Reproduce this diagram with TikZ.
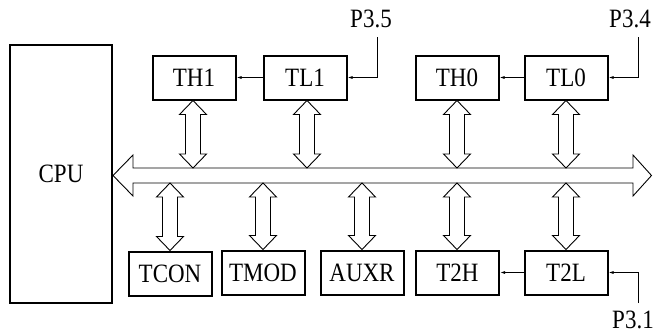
\documentclass[tikz,border=0pt]{standalone}
\usepackage{fontspec}
\setmainfont{Liberation Serif}
\usetikzlibrary{arrows.meta}
\newcommand\lbl[1]{\scalebox{1}[1.15]{#1}}
\tikzset{
  reg/.style={draw, line width=2pt, minimum width=83pt, minimum height=44pt, inner sep=0pt, font=\fontsize{23}{25}\selectfont},
  cpubox/.style={draw, line width=2pt, minimum width=102pt, minimum height=258pt, inner sep=0pt, font=\fontsize{23}{25}\selectfont},
  pin/.style={inner sep=0pt, font=\fontsize{23}{25}\selectfont},
  sig/.style={line width=0.9pt, -{Latex[length=5pt,width=3pt]}},
  hollow/.style={draw, line width=0.9pt, fill=white},
}
% vertical hollow double arrow: x, ytop, ybottom
\newcommand\vdarrow[3]{%
  \draw[hollow] (#1,#2) -- ++(13.5,14) -- ++(-6,0) -- (#1+7.5,#3-14) -- ++(6,0) -- (#1,#3)
    -- ++(-13.5,-14) -- ++(6,0) -- (#1-7.5,#2+14) -- ++(-6,0) -- cycle;}
\begin{document}
\begin{tikzpicture}[x=1pt,y=-1pt]
\useasboundingbox (0,0) rectangle (653,335);
% CPU
\node[cpubox] (cpu) at (61,174) {\lbl{CPU}};
% bus
\draw[hollow] (113,175.5) -- (133,155) -- (133,168) -- (633,168) -- (633,155) -- (651.5,175.5)
  -- (633,196) -- (633,183) -- (133,183) -- (133,196) -- cycle;
% top registers
\node[reg] (th1) at (194,77.5) {\lbl{TH1}};
\node[reg] (tl1) at (305,77.5) {\lbl{TL1}};
\node[reg] (th0) at (457,77.5) {\lbl{TH0}};
\node[reg] (tl0) at (566,77.5) {\lbl{TL0}};
% bottom registers
\node[reg] (tcon) at (170,273.5) {\lbl{TCON}};
\node[reg] (tmod) at (263,272.5) {\lbl{TMOD}};
\node[reg] (auxr) at (362,272.5) {\lbl{AUXR}};
\node[reg] (t2h) at (457.5,272.5) {\lbl{T2H}};
\node[reg] (t2l) at (566,272.5) {\lbl{T2L}};
% pins
\node[pin] (p35) at (371,19) {\lbl{P3.5}};
\node[pin] (p34) at (630,19) {\lbl{P3.4}};
\node[pin] (p31) at (633,320) {\lbl{P3.1}};
\coordinate (p35e) at (377,37);
\coordinate (p34e) at (638,37);
\coordinate (p31e) at (638,303);
% signal lines
\draw[sig] (p35e) |- (tl1.east);
\draw[sig] (tl1.west) -- (th1.east);
\draw[sig] (p34e) |- (tl0.east);
\draw[sig] (tl0.west) -- (th0.east);
\draw[sig] (p31e) |- (t2l.east);
\draw[sig] (t2l.west) -- (t2h.east);
% vertical bus arrows
\vdarrow{193}{100.5}{168}
\vdarrow{307}{100.5}{168}
\vdarrow{457}{100.5}{168}
\vdarrow{566}{100.5}{168}
\vdarrow{170}{183}{250.5}
\vdarrow{263}{183}{249.5}
\vdarrow{362}{183}{249.5}
\vdarrow{457}{183}{249.5}
\vdarrow{566}{183}{249.5}
\end{tikzpicture}
\end{document}
